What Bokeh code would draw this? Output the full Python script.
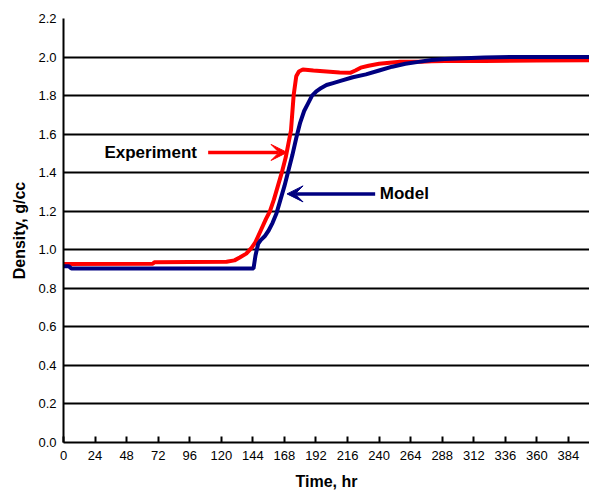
from bokeh.plotting import figure
from bokeh.models import (Range1d, FixedTicker, PrintfTickFormatter, Arrow,
                          VeeHead, Label)
from bokeh.embed import file_html
from bokeh.resources import INLINE

# Measured density during the run (hours, g/cc)
exp_time = [0, 68, 69, 124, 130, 134, 139, 143, 146, 150, 154, 157, 160, 163,
            166, 169, 171, 173, 175, 177, 179, 182, 190, 200, 210, 218, 222,
            226, 232, 240, 248, 256, 264, 272, 280, 290, 320, 360, 400]
exp_density = [0.926, 0.928, 0.935, 0.938, 0.945, 0.96, 0.98, 1.01, 1.04,
               1.10, 1.16, 1.20, 1.26, 1.33, 1.40, 1.48, 1.55, 1.62, 1.80,
               1.90, 1.925, 1.935, 1.93, 1.925, 1.92, 1.918, 1.93, 1.945,
               1.955, 1.965, 1.97, 1.975, 1.975, 1.975, 1.978, 1.98, 1.98,
               1.982, 1.983]

# Model prediction
model_time = [0, 4, 6, 144.5, 146, 148, 150, 153, 156, 159, 162, 165, 168,
              171, 174, 177, 180, 183, 186, 189, 192, 196, 200, 205, 210, 220,
              230, 240, 250, 260, 270, 280, 290, 300, 320, 340, 400]
model_density = [0.915, 0.915, 0.903, 0.903, 0.97, 1.03, 1.05, 1.07, 1.10,
                 1.14, 1.19, 1.26, 1.33, 1.41, 1.49, 1.58, 1.66, 1.72, 1.76,
                 1.80, 1.82, 1.84, 1.855, 1.865, 1.875, 1.895, 1.91, 1.93,
                 1.95, 1.965, 1.975, 1.985, 1.99, 1.993, 1.998, 2.0, 2.0]

x_ticks = [0, 24, 48, 72, 96, 120, 144, 168, 192, 216, 240, 264, 288, 312,
           336, 360, 384]
y_ticks = [0.0, 0.2, 0.4, 0.6, 0.8, 1.0, 1.2, 1.4, 1.6, 1.8, 2.0, 2.2]

FONT = "Liberation Sans"

p = figure(width=589, height=498, output_backend="svg", toolbar_location=None,
           x_range=Range1d(0, 400), y_range=Range1d(0, 2.2),
           min_border_left=63, min_border_right=0, min_border_top=18,
           min_border_bottom=56)
p.outline_line_color = None
p.background_fill_color = "white"
p.border_fill_color = "white"

# horizontal grid only
p.xgrid.grid_line_color = None
p.ygrid.ticker = FixedTicker(ticks=y_ticks)
p.ygrid.grid_line_color = "black"
p.ygrid.grid_line_width = 2

xa = p.xaxis[0]
xa.ticker = FixedTicker(ticks=x_ticks)
xa.axis_line_color = "black"
xa.axis_line_width = 2
xa.major_tick_in = 6
xa.major_tick_out = 0
xa.major_tick_line_width = 2
xa.minor_tick_line_color = None
xa.major_label_text_font = FONT
xa.major_label_text_font_size = "13px"
xa.major_label_text_color = "black"
xa.major_label_standoff = 8
xa.axis_label = "Time, hr"
xa.axis_label_text_font = FONT
xa.axis_label_text_font_size = "16px"
xa.axis_label_text_font_style = "bold"
xa.axis_label_text_color = "black"
xa.axis_label_standoff = 10

ya = p.yaxis[0]
ya.ticker = FixedTicker(ticks=y_ticks)
ya.formatter = PrintfTickFormatter(format="%.1f")
ya.axis_line_color = "black"
ya.axis_line_width = 2
ya.major_tick_in = 0
ya.major_tick_out = 0
ya.minor_tick_line_color = None
ya.major_label_text_font = FONT
ya.major_label_text_font_size = "13px"
ya.major_label_text_color = "black"
ya.major_label_standoff = 7
ya.axis_label = "Density, g/cc"
ya.axis_label_text_font = FONT
ya.axis_label_text_font_size = "16px"
ya.axis_label_text_font_style = "bold"
ya.axis_label_text_color = "black"
ya.axis_label_standoff = 7

RED = "#ff0000"
NAVY = "#000080"

p.line(exp_time, exp_density, line_color=RED, line_width=4)
p.line(model_time, model_density, line_color=NAVY, line_width=4)

# callouts
p.add_layout(Arrow(x_start=110, y_start=1.505, x_end=170, y_end=1.505,
                   line_color=RED, line_width=3.5,
                   end=VeeHead(size=16, fill_color=RED, line_color=RED)))
p.add_layout(Label(x=101.5, y=1.505, text="Experiment", text_align="right",
                   text_baseline="middle", text_font=FONT,
                   text_font_size="17px", text_font_style="bold",
                   text_color="black"))

p.add_layout(Arrow(x_start=237, y_start=1.29, x_end=170, y_end=1.29,
                   line_color=NAVY, line_width=3.5,
                   end=VeeHead(size=16, fill_color=NAVY, line_color=NAVY)))
p.add_layout(Label(x=240.5, y=1.29, text="Model", text_align="left",
                   text_baseline="middle", text_font=FONT,
                   text_font_size="17px", text_font_style="bold",
                   text_color="black"))

open("out.html", "w").write(file_html(p, INLINE))
